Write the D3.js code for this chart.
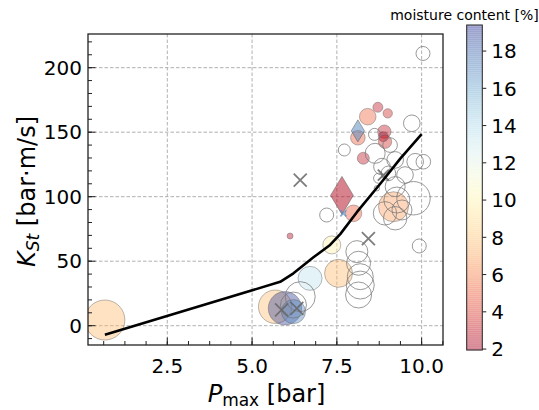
<!DOCTYPE html>
<html><head><meta charset="utf-8">
<script src="https://cdn.jsdelivr.net/npm/d3@7"></script>
<style>body{margin:0;background:#fff} svg{display:block;font-family:"DejaVu Sans",sans-serif}</style>
</head><body><svg id="c" width="539" height="410"></svg>
<script>
// ---------- data ----------
const xTicks = [2.5, 5.0, 7.5, 10.0];
const yTicks = [0, 50, 100, 150, 200];
const cbTicks = [2, 4, 6, 8, 10, 12, 14, 16, 18];

// coloured circles (Pmax [bar], KSt [bar m/s], moisture [%], marker area)
const fillP = [0.66, 5.68, 5.97, 6.22, 6.71, 6.12, 7.35, 7.55, 7.99, 9.17, 8.41, 8.71, 9.00, 8.12, 8.90, 8.87, 8.92, 8.28];
const fillK = [4.4, 14.7, 13.5, 10.9, 36.7, 69.5, 62.6, 40.6, 87.1, 92.2, 162.0, 169.3, 164.6, 145.7, 150.4, 146.5, 142.6, 129.8];
const fillM = [7.6, 7.8, 19.0, 17.0, 13.5, 2.5, 10.0, 7.6, 5.0, 6.8, 5.2, 3.0, 3.5, 5.0, 3.0, 2.0, 3.5, 3.0];
const fillS = [1600, 1115, 1115, 576, 576, 36, 324, 784, 276, 900, 276, 100, 88, 213, 180, 100, 180, 144];

// circles without moisture data
const hollowP = [10.04, 9.71, 8.61, 7.72, 8.63, 9.07, 9.22, 9.81, 10.05, 8.83, 8.73, 9.02, 9.51, 8.68, 9.22, 9.76, 9.27, 9.22, 8.92, 9.42, 7.20, 9.93, 8.09, 8.14, 8.19, 8.19, 8.14, 6.42, 6.22];
const hollowK = [211, 156.9, 148.3, 136.2, 133.6, 140, 128.5, 127.1, 127.1, 123.3, 114.3, 118.1, 116.8, 106.5, 107.8, 98.8, 97.4, 83.3, 87.1, 89.7, 85.8, 61.8, 57.4, 48.4, 38, 31.5, 23.8, 22.5, 16];
const hollowS = [196, 276, 144, 144, 400, 213, 276, 276, 213, 276, 100, 213, 276, 29, 400, 1115, 676, 548, 548, 400, 196, 196, 484, 576, 676, 784, 676, 900, 676];

// thin diamonds
const diaP = [7.65, 8.12];
const diaK = [101, 151];
const diaM = [2.5, 17.0];
const diaS = [1444, 484];

// crosses
const crossP = [6.42, 8.43, 5.87, 6.32, 8.87, 7.69];
const crossK = [112.9, 67.5, 12.2, 13.5, 116.8, 87.1];
const crossM = [null, null, null, null, null, 17.0];
const crossS = [169, 169, 169, 169, 121, 36];

// model curve
const lineP = [0.66, 5.83, 6.22, 6.81, 7.30, 7.60, 8.09, 8.78, 9.37, 10.0];
const lineK = [-7, 34, 40.6, 53, 62.6, 71, 88, 110, 129.5, 148.5];

// ---------- layout ----------
const svg = d3.select("#c");
const L = 88, R = 443, T = 34, B = 345;
const x = d3.scaleLinear().domain([0.162, 10.63]).range([L, R]);
const y = d3.scaleLinear().domain([-14.96, 226.1]).range([B, T]);
const cmin = 1.95, cmax = 19.4;
const alpha = 0.42;
const cnorm = d3.scaleLinear().domain([cmin, cmax]).range([0, 1]).clamp(true);
const col = m => d3.interpolateRdYlBu(cnorm(m));
const rS = d3.scaleSqrt().domain([0, 1600]).range([0, 20]);

svg.append("defs").append("clipPath").attr("id", "clip")
  .append("rect").attr("x", L).attr("y", T).attr("width", R - L).attr("height", B - T);

// grid
const grid = svg.append("g").attr("stroke", "#b0b0b0").attr("stroke-width", 1).attr("stroke-dasharray", "3.5,2");
xTicks.forEach(v => grid.append("line").attr("x1", x(v)).attr("x2", x(v)).attr("y1", T).attr("y2", B));
yTicks.forEach(v => grid.append("line").attr("y1", y(v)).attr("y2", y(v)).attr("x1", L).attr("x2", R));

const plot = svg.append("g").attr("clip-path", "url(#clip)");

// coloured circles
fillP.forEach((p, i) => {
  plot.append("circle").attr("cx", x(p)).attr("cy", y(fillK[i])).attr("r", rS(fillS[i]))
    .attr("fill", col(fillM[i])).attr("fill-opacity", alpha)
    .attr("stroke", "#555").attr("stroke-opacity", 0.4).attr("stroke-width", 1);
});
// hollow circles
hollowP.forEach((p, i) => {
  plot.append("circle").attr("cx", x(p)).attr("cy", y(hollowK[i])).attr("r", rS(hollowS[i]))
    .attr("fill", "none").attr("stroke", "#777").attr("stroke-opacity", 0.75).attr("stroke-width", 1);
});
// diamonds
diaP.forEach((p, i) => {
  const h = rS(diaS[i]), w = h * 0.6, cx = x(p), cy = y(diaK[i]);
  plot.append("path").attr("d", `M${cx},${cy - h}L${cx + w},${cy}L${cx},${cy + h}L${cx - w},${cy}Z`)
    .attr("fill", col(diaM[i])).attr("fill-opacity", 0.52)
    .attr("stroke", "#555").attr("stroke-opacity", 0.5).attr("stroke-width", 1);
});
// crosses
crossP.forEach((p, i) => {
  const h = rS(crossS[i]), cx = x(p), cy = y(crossK[i]);
  const c = crossM[i] == null ? "#666" : d3.interpolateRdYlBu(cnorm(crossM[i]));
  plot.append("path").attr("d", `M${cx - h},${cy - h}L${cx + h},${cy + h}M${cx - h},${cy + h}L${cx + h},${cy - h}`)
    .attr("stroke", c).attr("stroke-opacity", crossM[i] == null ? 0.85 : 0.7).attr("stroke-width", 1.8).attr("fill", "none");
});
// line
plot.append("path").datum(lineP.map((p, i) => [p, lineK[i]]))
  .attr("d", d3.line().x(d => x(d[0])).y(d => y(d[1])))
  .attr("fill", "none").attr("stroke", "#000").attr("stroke-width", 2.6).attr("stroke-linejoin", "round");

// axes (inward ticks)
const fs = 20;
const xMinor = d3.range(0.625, 10.63, 0.625);
const yMinor = d3.range(-10, 226, 10);
const ax = svg.append("g").attr("stroke", "#222");
xMinor.forEach(v => { if (x(v) > L && x(v) < R) ax.append("line").attr("x1", x(v)).attr("x2", x(v)).attr("y1", B).attr("y2", B - 4); });
xTicks.forEach(v => ax.append("line").attr("x1", x(v)).attr("x2", x(v)).attr("y1", B).attr("y2", B - 7.5));
yMinor.forEach(v => ax.append("line").attr("y1", y(v)).attr("y2", y(v)).attr("x1", L).attr("x2", L + 4));
yTicks.forEach(v => ax.append("line").attr("y1", y(v)).attr("y2", y(v)).attr("x1", L).attr("x2", L + 7.5));
svg.append("rect").attr("x", L).attr("y", T).attr("width", R - L).attr("height", B - T)
  .attr("fill", "none").attr("stroke", "#222").attr("stroke-width", 1.3);

xTicks.forEach(v => svg.append("text").attr("x", x(v)).attr("y", B + 28).attr("text-anchor", "middle")
  .attr("font-size", fs).text(d3.format(".1f")(v)));
yTicks.forEach(v => svg.append("text").attr("x", L - 6).attr("y", y(v)).attr("dy", "0.36em").attr("text-anchor", "end")
  .attr("font-size", fs).text(v));

// axis labels
const xl = svg.append("text").attr("x", (L + R) / 2 + 1).attr("y", 402).attr("text-anchor", "middle").attr("font-size", 24);
xl.append("tspan").attr("font-style", "italic").text("P");
xl.append("tspan").attr("font-size", 17).attr("dy", 4).text("max");
xl.append("tspan").attr("dy", -4).text(" [bar]");

const yl = svg.append("text").attr("transform", `translate(35,${(T + B) / 2 + 2}) rotate(-90)`).attr("text-anchor", "middle").attr("font-size", 24);
yl.append("tspan").attr("font-style", "italic").text("K");
yl.append("tspan").attr("font-style", "italic").attr("font-size", 17).attr("dy", 4).text("St");
yl.append("tspan").attr("dy", -4).text(" [bar·m/s]");

// colorbar
const cbL = 466.7, cbW = 15.6, cbT = 25, cbB = 350;
const cy = d3.scaleLinear().domain([cmin, cmax]).range([cbB, cbT]);
const cb = svg.append("g");
const nStep = 160;
for (let k = 0; k < nStep; k++) {
  const v0 = cmin + (cmax - cmin) * k / nStep, v1 = cmin + (cmax - cmin) * (k + 1) / nStep;
  cb.append("rect").attr("x", cbL).attr("width", cbW).attr("y", cy(v1)).attr("height", cy(v0) - cy(v1) + 0.3)
    .attr("fill", col((v0 + v1) / 2)).attr("fill-opacity", alpha);
}
cb.append("rect").attr("x", cbL).attr("y", cbT).attr("width", cbW).attr("height", cbB - cbT)
  .attr("fill", "none").attr("stroke", "#222").attr("stroke-width", 1);
cbTicks.forEach(v => {
  cb.append("line").attr("x1", cbL + cbW).attr("x2", cbL + cbW + 4).attr("y1", cy(v)).attr("y2", cy(v)).attr("stroke", "#222");
  cb.append("text").attr("x", cbL + cbW + 9).attr("y", cy(v)).attr("dy", "0.36em").attr("font-size", fs).text(v);
});
svg.append("text").attr("x", 464.5).attr("y", 20).attr("text-anchor", "middle").attr("font-size", 14).text("moisture content [%]");
</script></body></html>
